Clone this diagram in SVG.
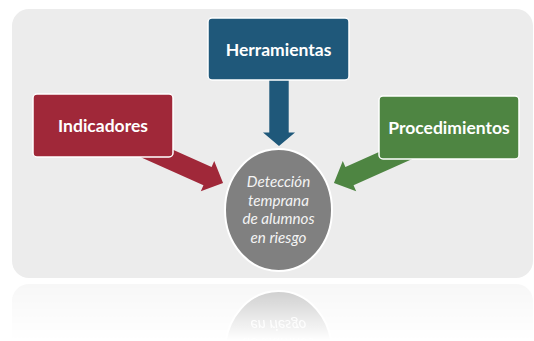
<svg xmlns="http://www.w3.org/2000/svg" xmlns:xlink="http://www.w3.org/1999/xlink" width="534" height="341" viewBox="0 0 534 341">
  <style>
    .box { stroke: #ffffff; stroke-width: 1.5; }
    .lbl { font-family: Lato, "Liberation Sans", sans-serif; font-weight: bold; font-size: 17.5px; fill: #ffffff; text-anchor: middle; }
    .etxt { font-family: Lato, "Liberation Sans", sans-serif; font-style: italic; font-size: 15.2px; fill: #f4f4f4; text-anchor: middle; }
  </style>
  <defs>
    <polygon id="arrow" points="0,-10 68,-10 68,-16.5 85,0 68,16.5 68,10 0,10"/>
    <linearGradient id="fade" gradientUnits="userSpaceOnUse" x1="0" y1="281" x2="0" y2="341">
      <stop offset="0" stop-color="#fff" stop-opacity="0.45"/>
      <stop offset="1" stop-color="#fff" stop-opacity="0"/>
    </linearGradient>
    <mask id="reflMask" maskUnits="userSpaceOnUse" x="0" y="280" width="534" height="61">
      <rect x="0" y="280" width="534" height="61" fill="url(#fade)"/>
    </mask>
  </defs>

  <rect width="534" height="341" fill="#ffffff"/>

  <g id="scene">
    <rect id="background" x="12" y="9" width="521" height="269" rx="17" fill="#ececec"/>

    <g id="connectors">
      <use xlink:href="#arrow" href="#arrow" transform="translate(279,79) rotate(90) scale(0.788,0.97)" fill="#1f587a"/>
      <use xlink:href="#arrow" href="#arrow" transform="translate(145.4,148.4) rotate(24)" fill="#a02839"/>
      <use xlink:href="#arrow" href="#arrow" transform="translate(411.6,148.4) rotate(156)" fill="#4e8542"/>
    </g>

    <g id="herramientas">
      <rect class="box" x="208" y="18" width="141" height="62" rx="4" fill="#1f587a"/>
      <text class="lbl" x="278.5" y="55.5">Herramientas</text>
    </g>
    <g id="indicadores">
      <rect class="box" x="33" y="94" width="140" height="63" rx="4" fill="#a02839"/>
      <text class="lbl" x="103" y="132">Indicadores</text>
    </g>
    <g id="procedimientos">
      <rect class="box" x="379" y="96" width="140" height="63" rx="4" fill="#4e8542"/>
      <text class="lbl" x="449" y="134">Procedimientos</text>
    </g>

    <g id="deteccion">
      <ellipse cx="278.5" cy="210" rx="53.5" ry="61" fill="#808080" stroke="#ffffff" stroke-width="2"/>
      <text class="etxt" x="278.5" y="187">Detección</text>
      <text class="etxt" x="278.5" y="205.5">temprana</text>
      <text class="etxt" x="278.5" y="224">de alumnos</text>
      <text class="etxt" x="278.5" y="242.5">en riesgo</text>
    </g>
  </g>

  <g id="reflection" mask="url(#reflMask)">
    <use xlink:href="#scene" href="#scene" transform="translate(0,562) scale(1,-1)"/>
  </g>
</svg>
